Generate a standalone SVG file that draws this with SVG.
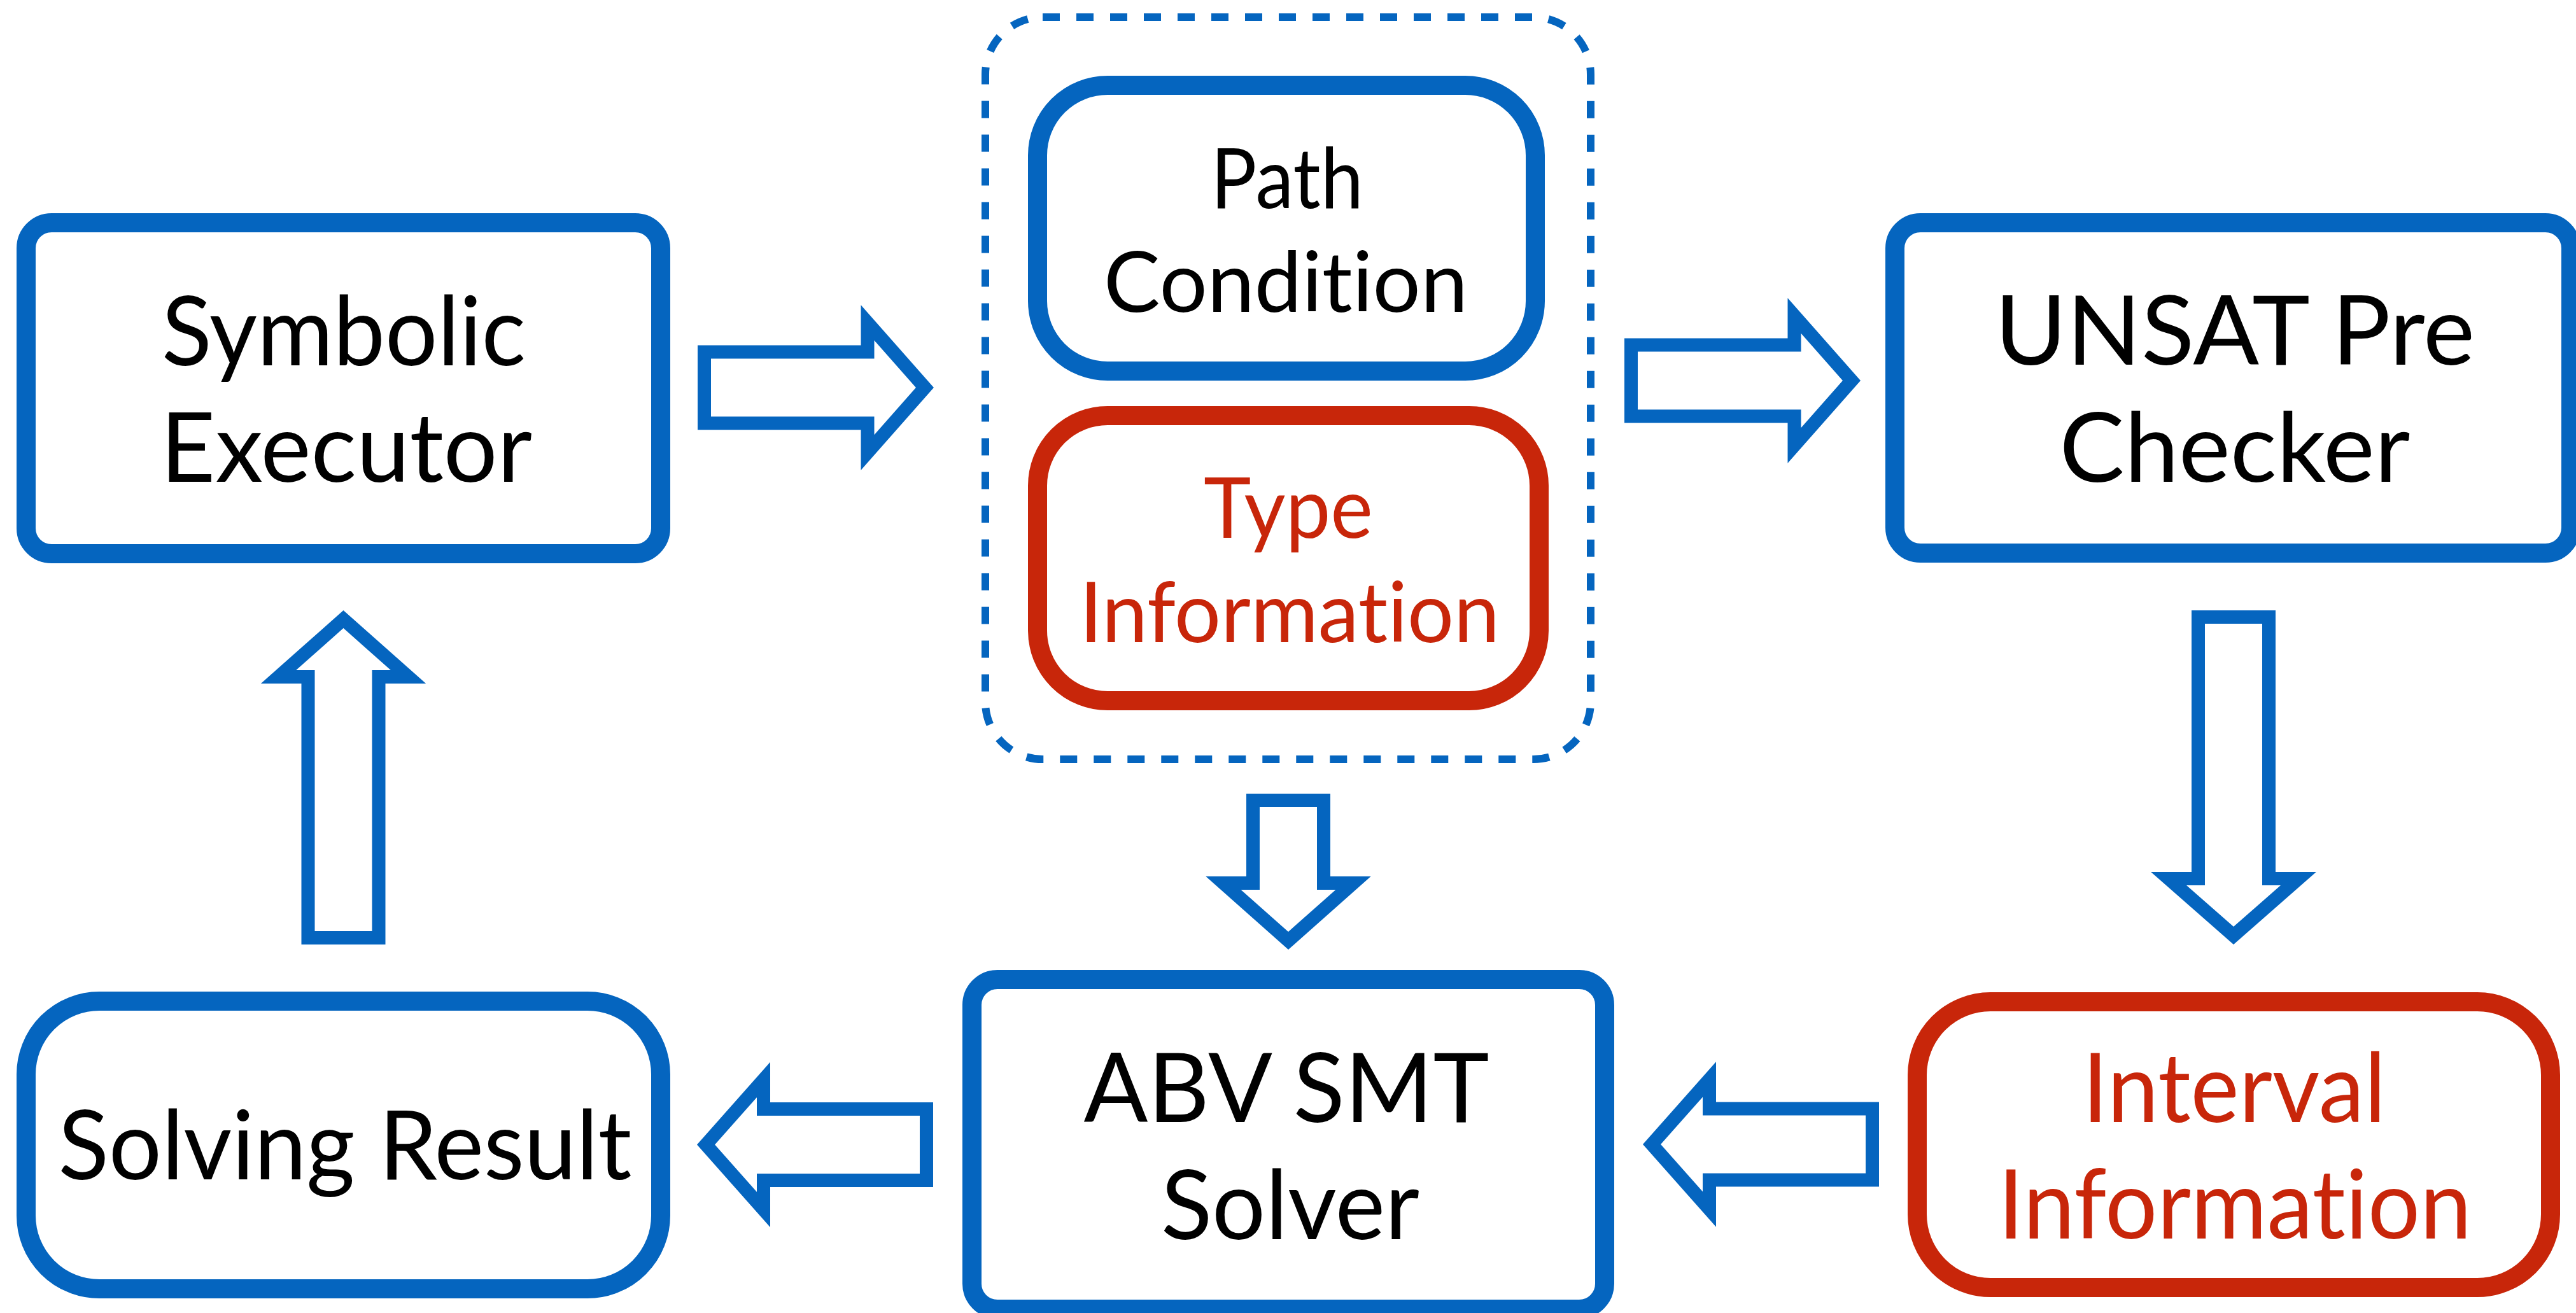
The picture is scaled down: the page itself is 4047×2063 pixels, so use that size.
<svg xmlns="http://www.w3.org/2000/svg" width="4047" height="2063" viewBox="0 0 4047 2063">
  <style>
    .box { fill: #ffffff; stroke-width: 30; }
    .blue { stroke: #0565BF; }
    .red { stroke: #C8260A; }
    .dash { fill: none; stroke: #0565BF; stroke-width: 12; stroke-dasharray: 27 26; }
    .arrow { fill: #ffffff; stroke: #0565BF; stroke-width: 21; stroke-linejoin: miter; stroke-miterlimit: 10; }
    .t { font-family: Lato, "Open Sans", "Liberation Sans", sans-serif; text-anchor: middle; font-variant-ligatures: none; font-feature-settings: "liga" 0, "clig" 0, "dlig" 0; }
    .big { font-size: 152px; }
    .mid { font-size: 131px; }
    .k { fill: #000000; }
    .r { fill: #C8260A; }
  </style>
  <rect x="0" y="0" width="4047" height="2063" fill="#ffffff"/>

  <g id="connectors">
    <path class="arrow" d="M1106.5,553 H1363 V507 L1453,609 L1363,711 V665 H1106.5 Z"/>
    <path class="arrow" d="M2562.5,542 H2819 V496 L2909,598 L2819,700 V654 H2562.5 Z"/>
    <path class="arrow" d="M3453.5,969.5 H3564.5 V1380.5 H3611 L3509,1470 L3407,1380.5 H3453.5 Z"/>
    <path class="arrow" d="M2941.5,1742 H2685.5 V1696 L2595,1798 L2685.5,1900 V1854 H2941.5 Z"/>
    <path class="arrow" d="M1968.5,1257.5 H2079.5 V1387.5 H2126 L2024,1478 L1922,1387.5 H1968.5 Z"/>
    <path class="arrow" d="M1455.5,1742.5 H1199.5 V1696.5 L1109,1798.5 L1199.5,1900.5 V1854.5 H1455.5 Z"/>
    <path class="arrow" d="M484,1473.5 V1063.5 H437.5 L539.5,973 L641.5,1063.5 H595 V1473.5 Z"/>
  </g>

  <g id="symbolic-executor">
    <rect class="box blue" x="41" y="350" width="997" height="520" rx="40"/>
    <text class="t big k" x="540" y="574" textLength="572" lengthAdjust="spacingAndGlyphs">Symbolic</text>
    <text class="t big k" x="544" y="757" textLength="584" lengthAdjust="spacingAndGlyphs">Executor</text>
  </g>

  <g id="constraint-group">
    <rect class="dash" x="1548" y="27" width="951" height="1166" rx="90"/>
  </g>

  <g id="path-condition">
    <rect class="box blue" x="1630" y="134" width="782" height="449" rx="110"/>
    <text class="t mid k" x="2022" y="327" textLength="240" lengthAdjust="spacingAndGlyphs">Path</text>
    <text class="t mid k" x="2020" y="490" textLength="572" lengthAdjust="spacingAndGlyphs">Condition</text>
  </g>

  <g id="type-information">
    <rect class="box red" x="1630" y="653" width="788" height="448" rx="110"/>
    <text class="t mid r" x="2024" y="845" textLength="266" lengthAdjust="spacingAndGlyphs">Type</text>
    <text class="t mid r" x="2026" y="1009" textLength="660" lengthAdjust="spacingAndGlyphs">Information</text>
  </g>

  <g id="unsat-pre-checker">
    <rect class="box blue" x="2977" y="350" width="1062" height="519" rx="40"/>
    <text class="t big k" x="3511" y="573" textLength="754" lengthAdjust="spacingAndGlyphs">UNSAT Pre</text>
    <text class="t big k" x="3511" y="757" textLength="551" lengthAdjust="spacingAndGlyphs">Checker</text>
  </g>

  <g id="interval-information">
    <rect class="box red" x="3012" y="1574" width="995" height="449" rx="115"/>
    <text class="t big r" x="3510" y="1763" textLength="477" lengthAdjust="spacingAndGlyphs">Interval</text>
    <text class="t big r" x="3511" y="1946" textLength="744" lengthAdjust="spacingAndGlyphs">Information</text>
  </g>

  <g id="abv-smt-solver">
    <rect class="box blue" x="1527" y="1539" width="994" height="518" rx="40"/>
    <text class="t big k" x="2021" y="1763" textLength="637" lengthAdjust="spacingAndGlyphs">ABV SMT</text>
    <text class="t big k" x="2027" y="1947" textLength="406" lengthAdjust="spacingAndGlyphs">Solver</text>
  </g>

  <g id="solving-result">
    <rect class="box blue" x="41" y="1573" width="997" height="452" rx="115"/>
    <text class="t big k" x="542" y="1853" textLength="901" lengthAdjust="spacingAndGlyphs">Solving Result</text>
  </g>
</svg>
